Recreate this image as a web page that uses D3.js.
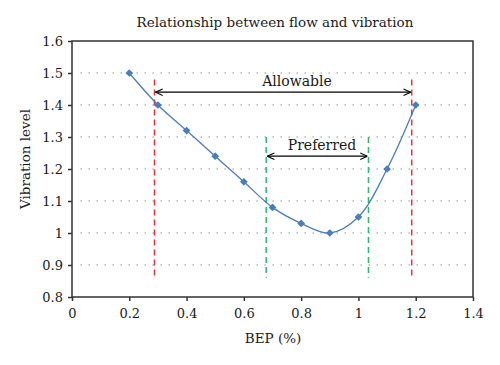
<!DOCTYPE html>
<html><head><meta charset="utf-8">
<script src="https://cdn.jsdelivr.net/npm/d3@7"></script>
<style>body{margin:0;background:#fff}svg{display:block}text{font-family:"DejaVu Serif",serif;fill:#1a1a1a}</style>
</head><body>
<script>
const bep = [0.2,0.3,0.4,0.5,0.6,0.7,0.8,0.9,1.0,1.1,1.2];
const vibration = [1.5,1.4,1.32,1.24,1.16,1.08,1.03,1.0,1.05,1.2,1.4];
const xTicks = [0,0.2,0.4,0.6,0.8,1,1.2,1.4];
const yTicks = [0.8,0.9,1,1.1,1.2,1.3,1.4,1.5,1.6];
const gridValues = [0.9,1,1.1,1.2,1.3,1.4,1.5];
const allowable = {x0:0.288, x1:1.186, y0:0.86, y1:1.48, arrowY:1.44, label:"Allowable"};
const preferred = {x0:0.678, x1:1.035, y0:0.86, y1:1.30, arrowY:1.24, label:"Preferred"};

const W=500,H=365, m={l:72,t:41,r:27,b:68};
const svg=d3.select("body").append("svg").attr("width",W).attr("height",H);
const x=d3.scaleLinear().domain([0,1.4]).range([m.l,W-m.r]);
const y=d3.scaleLinear().domain([0.8,1.6]).range([H-m.b,m.t]);

svg.append("defs").append("marker").attr("id","arr").attr("viewBox","0 0 10 10")
 .attr("refX",10).attr("refY",5).attr("markerWidth",8).attr("markerHeight",8).attr("orient","auto-start-reverse")
 .attr("markerUnits","userSpaceOnUse")
 .append("path").attr("d","M1,1L10,5L1,9").attr("fill","none").attr("stroke","#000").attr("stroke-width",1.3);

// grid
svg.append("g").selectAll("line").data(gridValues).join("line")
 .attr("x1",x(0.03)).attr("x2",x(1.385)).attr("y1",d=>y(d)).attr("y2",d=>y(d))
 .attr("stroke","#777").attr("stroke-width",1).attr("stroke-dasharray","1.2,6.8");

// frame
svg.append("rect").attr("x",x(0)).attr("y",y(1.6)).attr("width",x(1.4)-x(0)).attr("height",y(0.8)-y(1.6))
 .attr("fill","none").attr("stroke","#333").attr("stroke-width",1.5);

// axes
const xa=svg.append("g").attr("transform",`translate(0,${y(0.8)})`)
 .call(d3.axisBottom(x).tickValues(xTicks).tickSize(4).tickFormat(d=>d3.format("")(d)));
const ya=svg.append("g").attr("transform",`translate(${x(0)},0)`)
 .call(d3.axisLeft(y).tickValues(yTicks).tickSize(4).tickFormat(d=>d3.format("")(d)));
[xa,ya].forEach(g=>{g.select(".domain").remove();g.selectAll(".tick line").attr("stroke","#333").attr("stroke-width",1.5);
 g.selectAll("text").attr("font-size",13).attr("font-family","DejaVu Serif").attr("fill","#1a1a1a");});
xa.selectAll("text").attr("dy","1.1em");
ya.selectAll("text").attr("dx","-2");

// vertical dashed lines
function vline(xv,y0,y1,color){
 svg.append("line").attr("x1",x(xv)).attr("x2",x(xv)).attr("y1",y(y1)).attr("y2",y(y0))
  .attr("stroke",color).attr("stroke-width",1.5).attr("stroke-dasharray","6,4");
}
vline(allowable.x0,allowable.y0,allowable.y1,"#e5323b");
vline(allowable.x1,allowable.y0,allowable.y1,"#e5323b");
vline(preferred.x0,preferred.y0,preferred.y1,"#2eb872");
vline(preferred.x1,preferred.y0,preferred.y1,"#2eb872");

// data line
const pts=bep.map((d,i)=>[d,vibration[i]]);
svg.append("path").datum(pts)
 .attr("d",d3.line().x(d=>x(d[0])).y(d=>y(d[1])).curve(d3.curveCatmullRom.alpha(0.5)))
 .attr("fill","none").attr("stroke","#4a7ebb").attr("stroke-width",1.3);
svg.append("g").selectAll("path").data(pts).join("path")
 .attr("transform",d=>`translate(${x(d[0])},${y(d[1])}) rotate(45)`)
 .attr("d",d3.symbol(d3.symbolSquare,30)).attr("fill","#4a7ebb");

// arrows
[allowable,preferred].forEach(a=>{
 svg.append("line").attr("x1",x(a.x0)+1).attr("x2",x(a.x1)-1).attr("y1",y(a.arrowY)).attr("y2",y(a.arrowY))
  .attr("stroke","#000").attr("stroke-width",1.3).attr("marker-start","url(#arr)").attr("marker-end","url(#arr)");
});
svg.append("text").attr("x",297).attr("y",y(allowable.arrowY)-6).attr("text-anchor","middle").attr("font-size",14).text(allowable.label);
svg.append("text").attr("x",322).attr("y",y(preferred.arrowY)-6).attr("text-anchor","middle").attr("font-size",14).text(preferred.label);

// titles
svg.append("text").attr("x",275).attr("y",27).attr("text-anchor","middle").attr("font-size",13.5).text("Relationship between flow and vibration");
svg.append("text").attr("x",273).attr("y",343).attr("text-anchor","middle").attr("font-size",13.5).text("BEP (%)");
svg.append("text").attr("transform","translate(30,159) rotate(-90)").attr("text-anchor","middle").attr("font-size",13.5).text("Vibration level");
</script>
</body></html>
